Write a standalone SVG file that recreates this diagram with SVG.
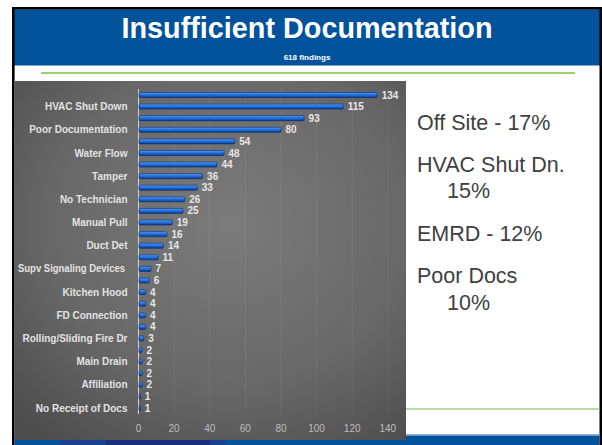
<svg xmlns="http://www.w3.org/2000/svg" width="602" height="445" viewBox="0 0 602 445">
<defs>
<radialGradient id="panel" cx="55%" cy="40%" r="75%">
<stop offset="0" stop-color="#7b7b7b"/>
<stop offset="0.6" stop-color="#686868"/>
<stop offset="1" stop-color="#4e4e4e"/>
</radialGradient>
<linearGradient id="bar" x1="0" y1="0" x2="0" y2="1">
<stop offset="0" stop-color="#5aa2ff"/>
<stop offset="0.35" stop-color="#2a7be6"/>
<stop offset="0.75" stop-color="#1557bf"/>
<stop offset="1" stop-color="#0a3480"/>
</linearGradient>
<style>
.cat{font-family:"Liberation Sans",Arial,sans-serif;font-weight:bold;font-size:10px;fill:#e2e2e2;text-anchor:end}
.val{font-family:"Liberation Sans",Arial,sans-serif;font-weight:bold;font-size:10px;fill:#e6e6e6}
.tick{font-family:"Liberation Sans",Arial,sans-serif;font-size:10px;fill:#bcbcbc;text-anchor:middle}
.grid{stroke:#ffffff;stroke-opacity:0.07;stroke-width:1}
.b{fill:url(#bar);stroke:#0b2a66;stroke-width:0.6}
.side{font-family:"Liberation Sans",Arial,sans-serif;font-size:21.5px;fill:#404040}
</style>
</defs>
<rect x="0" y="0" width="602" height="445" fill="#ffffff"/>
<g id="frame">
<rect x="14" y="9.5" width="586" height="56" fill="#02529c"/>
<rect x="12" y="7" width="590" height="2.6" fill="#000000"/>
<rect x="12" y="7" width="2.6" height="438" fill="#000000"/>
<rect x="599.5" y="7" width="2.5" height="438" fill="#000000"/>
<line x1="41" y1="73" x2="575" y2="73" stroke="#9ad26a" stroke-width="2"/>
<line x1="406" y1="409" x2="600" y2="409" stroke="#76b84a" stroke-width="1.2"/>
<rect x="14.6" y="434" width="585" height="1.5" fill="#8fb1dc"/>
<rect x="14.6" y="435.5" width="585" height="9.5" fill="#02529c"/>
<rect x="60" y="435.5" width="46" height="9.5" fill="#17418f"/>
<rect x="106" y="435.5" width="104" height="9.5" fill="#1b2f80"/>
<rect x="210" y="435.5" width="15" height="9.5" fill="#17418f"/>
</g>
<g id="title">
<text x="307" y="38" text-anchor="middle" font-family="Liberation Sans,Arial,sans-serif" font-weight="bold" font-size="29" fill="#ffffff" textLength="371" lengthAdjust="spacingAndGlyphs">Insufficient Documentation</text>
<text x="307" y="60" text-anchor="middle" font-family="Liberation Sans,Arial,sans-serif" font-weight="bold" font-size="8" fill="#ffffff">618 findings</text>
</g>
<g id="chart">
<rect x="14.6" y="81" width="391.4" height="359" fill="url(#panel)"/>
<g id="grid">
<line class="grid" x1="174.1" y1="88" x2="174.1" y2="414"/>
<line class="grid" x1="209.8" y1="88" x2="209.8" y2="414"/>
<line class="grid" x1="245.3" y1="88" x2="245.3" y2="414"/>
<line class="grid" x1="281" y1="88" x2="281" y2="414"/>
<line class="grid" x1="316.6" y1="88" x2="316.6" y2="414"/>
<line class="grid" x1="352.2" y1="88" x2="352.2" y2="414"/>
<line class="grid" x1="387.8" y1="88" x2="387.8" y2="414"/>
<line x1="138.5" y1="89" x2="138.5" y2="414" stroke="#d0d0d0" stroke-width="1"/>
</g>
<g id="bars">
<rect class="b" x="139" y="92.5" width="238.2" height="5" rx="1"/>
<rect class="b" x="139" y="104.1" width="204.3" height="5" rx="1"/>
<rect class="b" x="139" y="115.7" width="165.1" height="5" rx="1"/>
<rect class="b" x="139" y="127.3" width="142" height="5" rx="1"/>
<rect class="b" x="139" y="138.9" width="95.7" height="5" rx="1"/>
<rect class="b" x="139" y="150.5" width="85" height="5" rx="1"/>
<rect class="b" x="139" y="162.1" width="77.9" height="5" rx="1"/>
<rect class="b" x="139" y="173.7" width="63.6" height="5" rx="1"/>
<rect class="b" x="139" y="185.2" width="58.3" height="5" rx="1"/>
<rect class="b" x="139" y="196.8" width="45.8" height="5" rx="1"/>
<rect class="b" x="139" y="208.4" width="44" height="5" rx="1"/>
<rect class="b" x="139" y="220" width="33.3" height="5" rx="1"/>
<rect class="b" x="139" y="231.6" width="28" height="5" rx="1"/>
<rect class="b" x="139" y="243.2" width="24.4" height="5" rx="1"/>
<rect class="b" x="139" y="254.8" width="19.1" height="5" rx="1"/>
<rect class="b" x="139" y="266.4" width="12" height="5" rx="1"/>
<rect class="b" x="139" y="278" width="10.2" height="5" rx="1"/>
<rect class="b" x="139" y="289.6" width="6.6" height="5" rx="1"/>
<rect class="b" x="139" y="301.2" width="6.6" height="5" rx="1"/>
<rect class="b" x="139" y="312.8" width="6.6" height="5" rx="1"/>
<rect class="b" x="139" y="324.4" width="6.6" height="5" rx="1"/>
<rect class="b" x="139" y="336" width="4.8" height="5" rx="1"/>
<rect class="b" x="139" y="347.5" width="3.1" height="5" rx="0.8"/>
<rect class="b" x="139" y="359.1" width="3.1" height="5" rx="0.8"/>
<rect class="b" x="139" y="370.7" width="3.1" height="5" rx="0.8"/>
<rect class="b" x="139" y="382.3" width="3.1" height="5" rx="0.8"/>
<rect class="b" x="139" y="393.9" width="1.5" height="5" rx="0.5"/>
<rect class="b" x="139" y="405.5" width="1.5" height="5" rx="0.5"/>
</g>
<g id="values">
<text class="val" x="381.7" y="98.5">134</text>
<text class="val" x="347.8" y="110.1">115</text>
<text class="val" x="308.6" y="121.7">93</text>
<text class="val" x="285.5" y="133.3">80</text>
<text class="val" x="239.2" y="144.9">54</text>
<text class="val" x="228.5" y="156.5">48</text>
<text class="val" x="221.4" y="168.1">44</text>
<text class="val" x="207.1" y="179.7">36</text>
<text class="val" x="201.8" y="191.2">33</text>
<text class="val" x="189.3" y="202.8">26</text>
<text class="val" x="187.5" y="214.4">25</text>
<text class="val" x="176.8" y="226">19</text>
<text class="val" x="171.5" y="237.6">16</text>
<text class="val" x="167.9" y="249.2">14</text>
<text class="val" x="162.6" y="260.8">11</text>
<text class="val" x="155.5" y="272.4">7</text>
<text class="val" x="153.7" y="284">6</text>
<text class="val" x="150.1" y="295.6">4</text>
<text class="val" x="150.1" y="307.2">4</text>
<text class="val" x="150.1" y="318.8">4</text>
<text class="val" x="150.1" y="330.4">4</text>
<text class="val" x="148.3" y="342">3</text>
<text class="val" x="146.6" y="353.5">2</text>
<text class="val" x="146.6" y="365.1">2</text>
<text class="val" x="146.6" y="376.7">2</text>
<text class="val" x="146.6" y="388.3">2</text>
<text class="val" x="144.8" y="399.9">1</text>
<text class="val" x="144.8" y="411.5">1</text>
</g>
<g id="categories">
<text class="cat" x="127.5" y="110.1">HVAC Shut Down</text>
<text class="cat" x="127.5" y="133.3">Poor Documentation</text>
<text class="cat" x="127.5" y="156.5">Water Flow</text>
<text class="cat" x="127.5" y="179.7">Tamper</text>
<text class="cat" x="127.5" y="202.8">No Technician</text>
<text class="cat" x="127.5" y="226">Manual Pull</text>
<text class="cat" x="127.5" y="249.2">Duct Det</text>
<text class="cat" x="125" y="272.4" textLength="107" lengthAdjust="spacingAndGlyphs">Supv Signaling Devices</text>
<text class="cat" x="127.5" y="295.6">Kitchen Hood</text>
<text class="cat" x="127.5" y="318.8">FD Connection</text>
<text class="cat" x="127.5" y="342">Rolling/Sliding Fire Dr</text>
<text class="cat" x="127.5" y="365.1">Main Drain</text>
<text class="cat" x="127.5" y="388.3">Affiliation</text>
<text class="cat" x="127.5" y="411.5">No Receipt of Docs</text>
</g>
<g id="ticks">
<text class="tick" x="138.5" y="432">0</text>
<text class="tick" x="174.1" y="432">20</text>
<text class="tick" x="209.8" y="432">40</text>
<text class="tick" x="245.3" y="432">60</text>
<text class="tick" x="281" y="432">80</text>
<text class="tick" x="316.6" y="432">100</text>
<text class="tick" x="352.2" y="432">120</text>
<text class="tick" x="387.8" y="432">140</text>
</g>
</g>
<g id="summary">
<text class="side" x="417" y="130">Off Site - 17%</text>
<text class="side" x="417" y="172">HVAC Shut Dn.</text>
<text class="side" x="447" y="198">15%</text>
<text class="side" x="417" y="241">EMRD - 12%</text>
<text class="side" x="417" y="283">Poor Docs</text>
<text class="side" x="447" y="310">10%</text>
</g>
</svg>
